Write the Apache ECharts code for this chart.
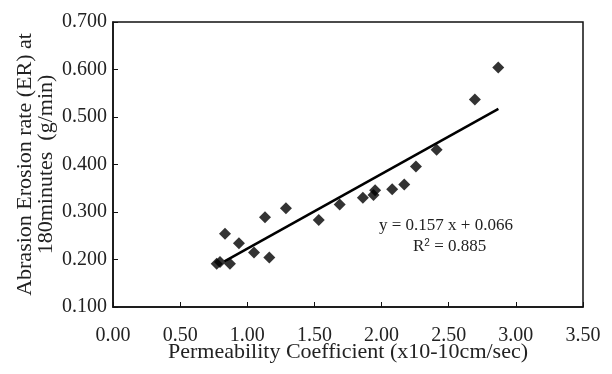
<!DOCTYPE html>
<html>
<head>
<meta charset="utf-8">
<script src="https://cdn.jsdelivr.net/npm/echarts@6/dist/echarts.min.js"></script>
<style>
    html, body {margin: 0; padding: 0; background: #fff;}
    #chart {width: 612px; height: 374px;}
</style>
</head>
<body>
<div id="chart"></div>
<script>
    // 渗透系数 (x10-10cm/sec)
    var permX = [0.772, 0.797, 0.834, 0.871, 0.938, 1.050, 1.132, 1.164, 1.288, 1.532,
        1.688, 1.861, 1.940, 1.952, 2.079, 2.169, 2.256, 2.410, 2.695, 2.869];
    // 180分钟磨损侵蚀率 (g/min)
    var erosionY = [0.191, 0.195, 0.254, 0.191, 0.234, 0.215, 0.289, 0.204, 0.308, 0.283,
        0.316, 0.330, 0.336, 0.346, 0.348, 0.358, 0.396, 0.431, 0.537, 0.604];
    // 趋势线端点
    var trendX = [0.83, 2.87];
    var trendY = [0.196, 0.517];
    var eqText = ['y = 0.157 x + 0.066', 'R{sup|2} = 0.885'];

    var font = '"Liberation Serif", "DejaVu Serif", serif';

    var points = permX.map(function (x, i) {
        return [x, erosionY[i]];
    });
    var trend = trendX.map(function (x, i) {
        return [x, trendY[i]];
    });

    var chart = echarts.init(document.getElementById('chart'));
    chart.setOption({
        animation: false,
        backgroundColor: '#fff',
        grid: {
            left: 113, right: 29, top: 22, bottom: 67,
            show: true, borderColor: '#111', borderWidth: 1.5
        },
        xAxis: {
            type: 'value', min: 0, max: 3.5, interval: 0.5,
            name: 'Permeability Coefficient (x10-10cm/sec)',
            nameLocation: 'middle', nameGap: 34, nameMoveOverlap: false,
            nameTextStyle: {fontFamily: font, fontSize: 22, color: '#222'},
            axisLine: {lineStyle: {color: '#111', width: 1.5}},
            axisTick: {inside: true, length: 5, lineStyle: {color: '#111'}},
            axisLabel: {
                fontFamily: font, fontSize: 20, color: '#222', margin: 19,
                formatter: function (v) { return v.toFixed(2); }
            },
            splitLine: {show: false}
        },
        yAxis: {
            type: 'value', min: 0.1, max: 0.7, interval: 0.1,
            name: 'Abrasion Erosion rate (ER) at\n180minutes  (g/min)',
            nameLocation: 'middle', nameGap: 56, nameMoveOverlap: false,
            nameTextStyle: {fontFamily: font, fontSize: 22, color: '#222', lineHeight: 21},
            axisLine: {lineStyle: {color: '#111', width: 1.5}},
            axisTick: {inside: true, length: 5, lineStyle: {color: '#111'}},
            axisLabel: {
                fontFamily: font, fontSize: 20, color: '#222', margin: 6,
                formatter: function (v) { return v.toFixed(3); }
            },
            splitLine: {show: false}
        },
        series: [
            {
                name: 'ER',
                type: 'scatter',
                symbol: 'diamond',
                symbolSize: 12,
                itemStyle: {color: '#000'},
                data: points,
                z: 3
            },
            {
                name: 'trend',
                type: 'line',
                symbol: 'none',
                lineStyle: {color: '#000', width: 2.5},
                data: trend,
                z: 2
            }
        ],
        graphic: [
            {
                type: 'text', left: 379, top: 217,
                style: {text: eqText[0], fontFamily: font, fontSize: 17, fill: '#222'}
            },
            {
                type: 'text', left: 413, top: 238,
                style: {
                    text: eqText[1], fontFamily: font, fontSize: 17, fill: '#222',
                    rich: {sup: {fontSize: 10, verticalAlign: 'top', padding: [0, 0, 7, 0]}}
                }
            }
        ]
    });
</script>
</body>
</html>
